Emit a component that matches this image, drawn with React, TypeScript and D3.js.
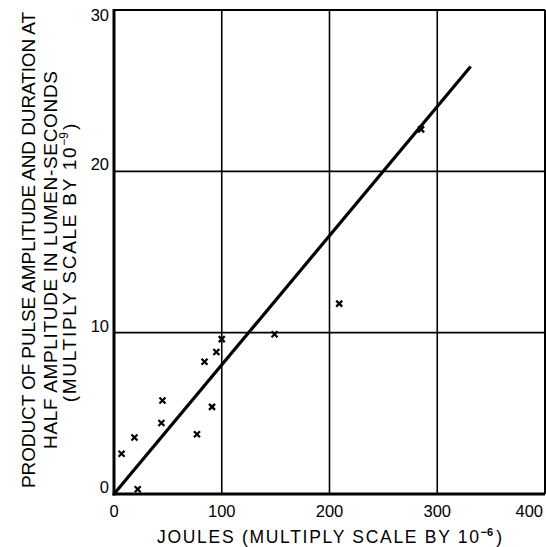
import * as d3 from "d3";

// pulse measurements (x: joules * 1e-6, y: lumen-seconds * 1e-9)
const joules = [7, 22, 19, 45, 44, 77, 84, 95, 91, 100, 149, 209, 285];
const product = [2.5, 0.3, 3.5, 5.8, 4.4, 3.7, 8.2, 8.8, 5.4, 9.6, 9.9, 11.8, 22.6];

// fitted straight line
const fitX = [0, 331];
const fitY = [0, 26.5];

const xTicks = [0, 100, 200, 300, 400];
const yTicks = [0, 10, 20, 30];

const width = 546,
	height = 547;

const font = "'Liberation Sans', Arial, sans-serif";

export default function App() {
	const x = d3.scaleLinear().domain([0, 400]).range([114, 545]);
	const y = d3.scaleLinear().domain([0, 30]).range([494, 10]);

	const line = d3
		.line<number>()
		.x((d) => x(fitX[d]))
		.y((d) => y(fitY[d]));

	const s = 3; // half size of the x marks

	return (
		<svg
			width={width}
			height={height}
			style={{ position: "absolute", left: 0, top: 0, background: "#fff" }}
			fontFamily={font}
		>
			{/* grid */}
			{xTicks.slice(1, 4).map((t) => (
				<line key={"gx" + t} x1={x(t)} x2={x(t)} y1={y(30)} y2={y(0)} stroke="#000" strokeWidth={1.6} />
			))}
			{yTicks.slice(1, 3).map((t) => (
				<line key={"gy" + t} x1={x(0)} x2={x(400)} y1={y(t)} y2={y(t)} stroke="#000" strokeWidth={1.6} />
			))}

			{/* frame */}
			<line x1={x(0)} x2={x(400)} y1={y(30)} y2={y(30)} stroke="#000" strokeWidth={2} />
			<line x1={x(400)} x2={x(400)} y1={y(30)} y2={y(0)} stroke="#000" strokeWidth={2} />
			<line x1={x(0)} x2={x(0)} y1={y(30) - 1} y2={y(0) + 1.5} stroke="#000" strokeWidth={3} />
			<line x1={x(0) - 1.5} x2={x(400)} y1={y(0)} y2={y(0)} stroke="#000" strokeWidth={3} />

			{/* fitted line */}
			<path d={line(fitX.map((_, i) => i)) ?? ""} fill="none" stroke="#000" strokeWidth={3.2} />

			{/* data points */}
			{joules.map((j, i) => (
				<g key={i} stroke="#000" strokeWidth={2.2}>
					<line x1={x(j) - s} x2={x(j) + s} y1={y(product[i]) - s} y2={y(product[i]) + s} />
					<line x1={x(j) - s} x2={x(j) + s} y1={y(product[i]) + s} y2={y(product[i]) - s} />
				</g>
			))}

			{/* x tick labels */}
			{xTicks.map((t) => (
				<text
					key={"tx" + t}
					x={t === 400 ? x(t) - 2 : x(t)}
					y={517}
					textAnchor={t === 400 ? "end" : "middle"}
					fontSize={16.5}
				>
					{t}
				</text>
			))}

			{/* y tick labels */}
			{yTicks.map((t) => (
				<text
					key={"ty" + t}
					x={109}
					y={t === 30 ? y(t) + 11 : y(t) - 1}
					textAnchor="end"
					fontSize={16.5}
				>
					{t}
				</text>
			))}

			{/* x axis title */}
			<text x={157} y={543} fontSize={17.5}>
				<tspan textLength={322}>JOULES (MULTIPLY SCALE BY 10</tspan>
				<tspan dy={-7} fontSize={11} fontWeight="bold">−6</tspan>
				<tspan dy={7} dx={3}>)</tspan>
			</text>

			{/* y axis title */}
			<g fontSize={19}>
				<text transform="translate(35,250) rotate(-90)" textAnchor="middle" textLength={476}>
					PRODUCT OF PULSE AMPLITUDE AND DURATION AT
				</text>
				<text transform="translate(57,260) rotate(-90)" textAnchor="middle" textLength={378}>
					HALF AMPLITUDE IN LUMEN-SECONDS
				</text>
				<text transform="translate(76,263) rotate(-90)" textAnchor="middle">
					<tspan textLength={255}>(MULTIPLY SCALE BY 10</tspan>
					<tspan dy={-8} fontSize={12}>−9</tspan>
					<tspan dy={8} dx={2}>)</tspan>
				</text>
			</g>
		</svg>
	);
}
